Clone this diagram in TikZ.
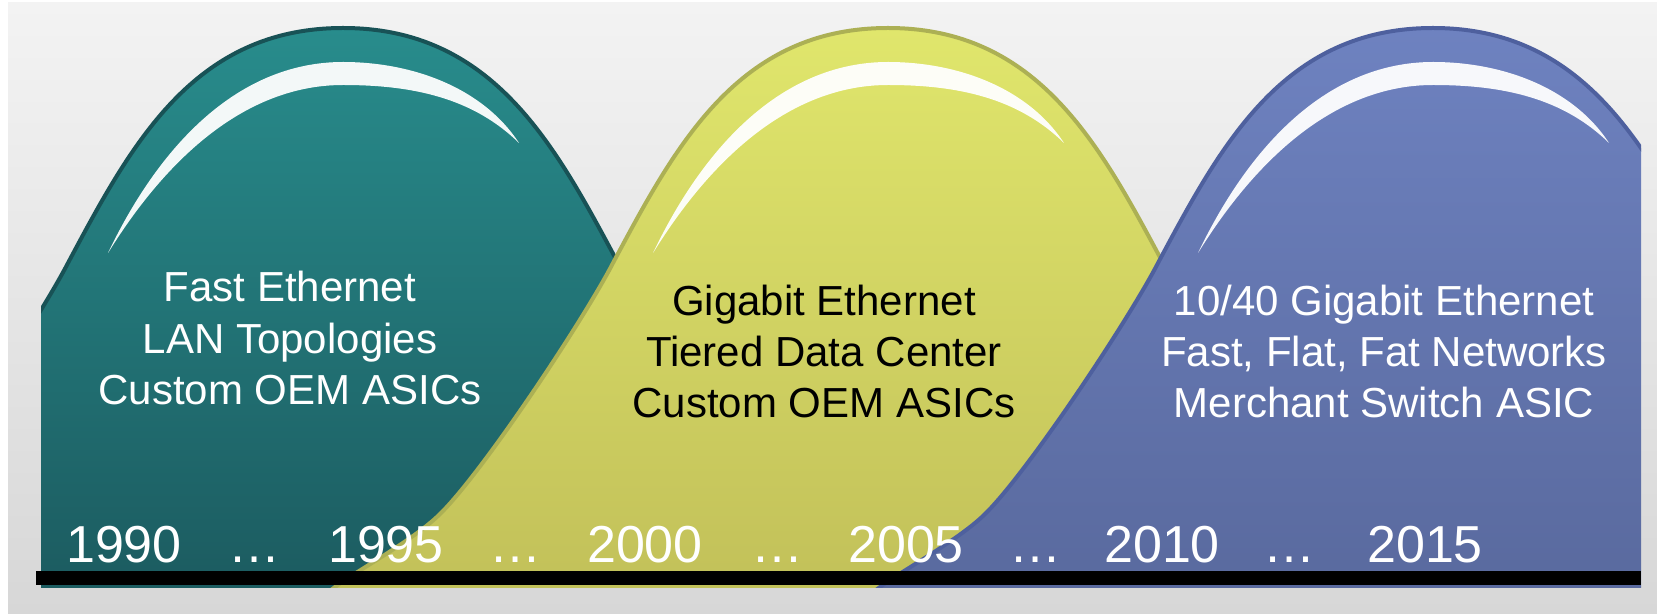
\documentclass[tikz,border=0pt]{standalone}
\usepackage{fontspec}
\setmainfont{Liberation Sans}
\definecolor{bgtop}{RGB}{243,243,243}
\definecolor{bgbot}{RGB}{215,215,215}
\definecolor{tealtop}{RGB}{40,140,140}
\definecolor{tealbot}{RGB}{27,88,93}
\definecolor{tealrim}{RGB}{24,82,86}
\definecolor{yeltop}{RGB}{224,230,108}
\definecolor{yelbot}{RGB}{192,190,88}
\definecolor{yelrim}{RGB}{172,176,84}
\definecolor{bluetop}{RGB}{110,130,192}
\definecolor{bluebot}{RGB}{88,104,156}
\definecolor{bluerim}{RGB}{78,96,158}
\tikzset{
  lbl/.style={anchor=base, inner sep=0pt, font=\fontsize{21}{25}\selectfont},
  yearlbl/.style={anchor=base, inner sep=0pt, text=white, font=\fontsize{26}{30}\selectfont},
  rimline/.style={line width=2pt},
  gloss/.style={fill=white, opacity=.95}
}
\newcommand\bellcurve{%
  (-593,589) -- (-553,559)
  .. controls (-528.7,541.3) and (-473,511) .. (-448,486)
  .. controls (-406,445) and (-305,293) .. (-275,235)
  .. controls (-212,117) and (-150,0) .. (0,0)
  .. controls (150,0) and (212,117) .. (275,235)
  .. controls (305,293) and (406,445) .. (448,486)
  .. controls (473,511) and (528.7,541.3) .. (553,559)
  -- (593,589)}
\newcommand\bellshape[4]{%
  \begin{scope}[shift={(#1,28)}]
    \shade[top color=#2,bottom color=#3] (-600,600) -- \bellcurve -- (600,600) -- cycle;
    \draw[rimline,#4] \bellcurve;
    \fill[gloss] (-235,225) .. controls (-180,110) and (-100,34) .. (0,34)
      .. controls (70,34) and (140,60) .. (176,115)
      .. controls (130,70) and (70,57) .. (0,57)
      .. controls (-90,57) and (-170,120) .. (-235,225) -- cycle;
  \end{scope}}
\begin{document}
\begin{tikzpicture}[x=0.5pt,y=-0.5pt]
\useasboundingbox (0,0) rectangle (1657,614);
\fill[white] (0,0) rectangle (1657,614);
\shade[top color=bgtop,bottom color=bgbot] (8,3) rectangle (1657,614);
\begin{scope}
  \clip (41,0) rectangle (1641,587);
  \bellshape{343}{tealtop}{tealbot}{tealrim}
  \bellshape{888}{yeltop}{yelbot}{yelrim}
  \bellshape{1433}{bluetop}{bluebot}{bluerim}
\end{scope}
\fill[black] (36,571) rectangle (1641,585);
% texts
\node[lbl,text=white] (a1) at (290,302) {Fast Ethernet};
\node[lbl,text=white] (a2) at (290,353) {LAN Topologies};
\node[lbl,text=white] (a3) at (290,404) {Custom OEM ASICs};
\node[lbl,text=black] (b1) at (824,315) {Gigabit Ethernet};
\node[lbl,text=black] (b2) at (824,366) {Tiered Data Center};
\node[lbl,text=black] (b3) at (824,417) {Custom OEM ASICs};
\node[lbl,text=white] (c1) at (1384,315) {10/40 Gigabit Ethernet};
\node[lbl,text=white] (c2) at (1384,366) {Fast, Flat, Fat Networks};
\node[lbl,text=white] (c3) at (1384,417) {Merchant Switch ASIC};
% years
\node[yearlbl] (y1) at (124,562) {1990};
\node[yearlbl] (d1) at (254,562) {…};
\node[yearlbl] (y2) at (386,562) {1995};
\node[yearlbl] (d2) at (515,562) {…};
\node[yearlbl] (y3) at (645,562) {2000};
\node[yearlbl] (d3) at (777,562) {…};
\node[yearlbl] (y4) at (906,562) {2005};
\node[yearlbl] (d4) at (1035,562) {…};
\node[yearlbl] (y5) at (1162,562) {2010};
\node[yearlbl] (d5) at (1289,562) {…};
\node[yearlbl] (y6) at (1425,562) {2015};
\end{tikzpicture}
\end{document}
